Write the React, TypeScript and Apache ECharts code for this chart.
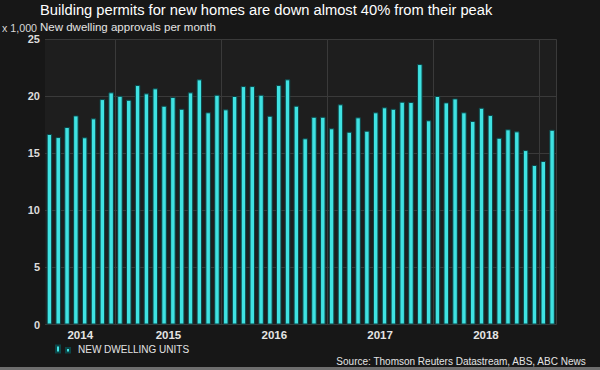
import React, { useEffect, useRef } from "react";
import * as echarts from "echarts";

const months: string[] = [
  "2014-05", "2014-06", "2014-07", "2014-08", "2014-09", "2014-10", "2014-11", "2014-12",
  "2015-01", "2015-02", "2015-03", "2015-04", "2015-05", "2015-06", "2015-07", "2015-08", "2015-09", "2015-10", "2015-11", "2015-12",
  "2016-01", "2016-02", "2016-03", "2016-04", "2016-05", "2016-06", "2016-07", "2016-08", "2016-09", "2016-10", "2016-11", "2016-12",
  "2017-01", "2017-02", "2017-03", "2017-04", "2017-05", "2017-06", "2017-07", "2017-08", "2017-09", "2017-10", "2017-11", "2017-12",
  "2018-01", "2018-02", "2018-03", "2018-04", "2018-05", "2018-06", "2018-07", "2018-08", "2018-09", "2018-10", "2018-11", "2018-12",
  "2019-01", "2019-02",
];

const approvals: number[] = [
  16.7, 16.43, 17.31, 18.33, 16.41, 18.07, 19.76, 20.35,
  20.05, 19.7, 20.99, 20.26, 20.7, 19.18, 19.94, 18.91, 20.35, 21.49, 18.6, 20.14,
  18.86, 20.03, 20.9, 20.9, 20.14, 18.3, 20.99, 21.49, 19.18, 16.32, 18.21, 18.21,
  17.2, 19.3, 16.9, 18.16, 16.99, 18.6, 19.04, 18.91, 19.53, 19.5, 22.83, 17.9,
  20.03, 19.47, 19.82, 18.6, 17.84, 19.0, 18.36, 16.37, 17.11, 16.93, 15.29, 13.98,
  14.33, 17.07,
];

const yearLabels: string[] = ["2014", "2015", "2016", "2017", "2018"];
const yearStartIndex: number[] = [0, 8, 20, 32, 44, 56];
const yTicks: number[] = [0, 5, 10, 15, 20, 25];

const FONT = "'Liberation Sans', Arial, Helvetica, sans-serif";

export default function App() {
  const ref = useRef<HTMLDivElement>(null);

  useEffect(() => {
    if (!ref.current) return;
    const chart = echarts.init(ref.current, null, { renderer: "svg" });

    const centers = yearLabels.map((_, i) => (yearStartIndex[i] + yearStartIndex[i + 1]) / 2);

    chart.setOption({
      animation: false,
      backgroundColor: "#171717",
      textStyle: { fontFamily: FONT },
      title: [
        {
          text: "Building permits for new homes are down almost 40% from their peak",
          left: 40,
          top: 2,
          padding: 0,
          textStyle: { color: "#ffffff", fontSize: 14.7, fontWeight: "normal", fontFamily: FONT },
        },
        {
          text: "New dwelling approvals per month",
          left: 40,
          top: 21,
          padding: 0,
          textStyle: { color: "#e4e4e4", fontSize: 11.5, fontWeight: "normal", fontFamily: FONT },
        },
        {
          text: "x 1,000",
          left: 2,
          top: 22,
          padding: 0,
          textStyle: { color: "#d8d8d8", fontSize: 10.7, fontWeight: "normal", fontFamily: FONT },
        },
        {
          text: "Source: Thomson Reuters Datastream, ABS, ABC News",
          right: 13,
          top: 356.5,
          padding: 0,
          textStyle: { color: "#e4e4e4", fontSize: 10, fontWeight: "normal", fontFamily: FONT },
        },
      ],
      legend: {
        left: 55,
        top: 344,
        padding: 0,
        itemWidth: 14,
        itemHeight: 7,
        icon: "path://M0,0H4V7H0Z M10,2.5H14V7H10Z",
        textStyle: { color: "#e4e4e4", fontSize: 10, fontFamily: FONT, padding: [0, 0, 0, 3] },
        data: ["NEW DWELLING UNITS"],
      },
      grid: {
        left: 45,
        right: 43.5,
        top: 39.3,
        bottom: 45.5,
        show: true,
        backgroundColor: "#1e1e1e",
        borderWidth: 0,
      },
      xAxis: [
        {
          type: "category",
          data: months,
          boundaryGap: true,
          axisLine: { show: false },
          axisTick: { show: false },
          axisLabel: { show: false },
          splitLine: {
            show: true,
            interval: (index: number) => yearStartIndex.slice(1).includes(index),
            lineStyle: { color: "#3a3a3a", width: 1 },
          },
        },
        {
          type: "value",
          position: "bottom",
          min: 0,
          max: months.length,
          interval: 2,
          axisLine: { show: false },
          axisTick: { show: false },
          splitLine: { show: false },
          axisLabel: {
            show: true,
            margin: 4,
            color: "#e4e4e4",
            fontSize: 11.5,
            fontWeight: "bold",
            fontFamily: FONT,
            showMinLabel: true,
            showMaxLabel: true,
            formatter: (v: number) => {
              const i = centers.findIndex((c) => Math.abs(c - v) < 0.01);
              return i >= 0 ? yearLabels[i] : "";
            },
          },
        },
      ],
      yAxis: {
        type: "value",
        min: yTicks[0],
        max: yTicks[yTicks.length - 1],
        interval: 5,
        axisLine: { show: false },
        axisTick: { show: false },
        axisLabel: { color: "#dcdcdc", fontSize: 11, fontWeight: "bold", margin: 5, fontFamily: FONT },
        splitLine: { show: true, lineStyle: { color: "#3a3a3a", width: 1 } },
      },
      series: [
        {
          name: "NEW DWELLING UNITS",
          type: "bar",
          xAxisIndex: 0,
          data: approvals,
          barWidth: 5.5,
          itemStyle: { color: "#3fe2e2", borderColor: "#0c4446", borderWidth: 1 },
        },
      ],
      graphic: [
        {
          type: "rect",
          shape: { x: 0, y: 367, width: 600, height: 3 },
          style: { fill: "#6e6e6e" },
          silent: true,
        },
      ],
    });

    return () => chart.dispose();
  }, []);

  return <div ref={ref} style={{ width: 600, height: 370, position: "fixed", left: 0, top: 0 }} />;
}
